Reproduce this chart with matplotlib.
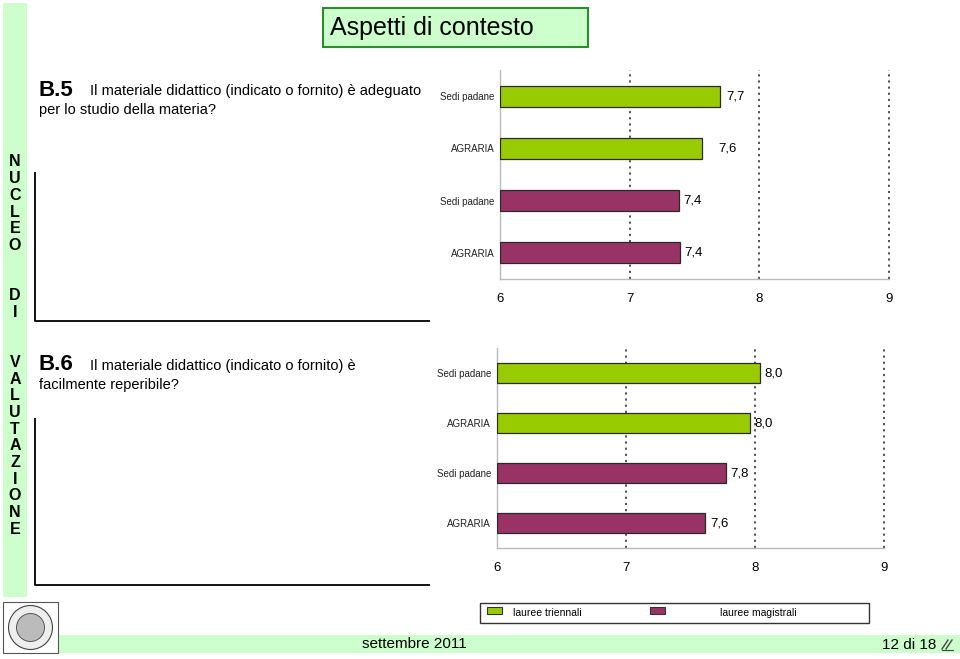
import matplotlib
matplotlib.use("Agg")
import matplotlib.pyplot as plt
from matplotlib.patches import Rectangle, Circle

plt.rcParams['font.family'] = ['Liberation Sans', 'DejaVu Sans']

# ---------------- data ----------------
categories = ["Sedi padane", "AGRARIA", "Sedi padane", "AGRARIA"]
series_names = ["lauree triennali", "lauree magistrali"]
b5_values = [7.70, 7.56, 7.38, 7.39]
b6_values = [8.04, 7.96, 7.78, 7.61]
bar_series = [0, 0, 1, 1]
x_ticks = [6, 7, 8, 9]
x_tick_labels = ["6", "7", "8", "9"]
q5_code = "B.5"
q5_text = ["Il materiale didattico (indicato o fornito) è adeguato",
           "per lo studio della materia?"]
q6_code = "B.6"
q6_text = ["Il materiale didattico (indicato o fornito) è",
           "facilmente reperibile?"]
title_text = "Aspetti di contesto"
side_text = "NUCLEO  DI  VALUTAZIONE"
footer_date = "settembre 2011"
footer_page = "12 di 18"

# ---------------- styles ----------------
series_colors = ["#99cc00", "#993366"]
light_green = "#ccffcc"
W, H = 960, 659
DPI = 100

fig = plt.figure(figsize=(W / DPI, H / DPI), dpi=DPI)
fig.patch.set_facecolor("white")

# background / decoration layer in pixel coordinates
bg = fig.add_axes([0, 0, 1, 1], zorder=0)
bg.set_xlim(0, W)
bg.set_ylim(H, 0)
bg.axis("off")

bg.add_patch(Rectangle((3, 3), 24, 594, facecolor=light_green, edgecolor="none"))
bg.add_patch(Rectangle((58, 635), 902, 18, facecolor=light_green, edgecolor="none"))
bg.add_patch(Rectangle((323, 8), 265, 39, facecolor=light_green,
                       edgecolor="#2e8b2e", linewidth=1.5))
bg.text(330, 28, title_text, fontsize=18, va="center", ha="left", color="black")

# vertical side text
y0 = 162
step = 16.7
for i, ch in enumerate(side_text):
    if ch.strip():
        bg.text(15, y0 + i * step, ch, fontsize=11.5, fontweight="bold",
                ha="center", va="center", fontstretch="condensed",
                family=["Liberation Sans", "DejaVu Sans"], color="black")

# L-shaped frames
for (top, bot) in [(172, 321), (418, 585)]:
    bg.plot([35, 35, 430], [top, bot, bot], color="black", linewidth=1.3,
            solid_capstyle="butt")

# question texts
def question(y_base, code, lines):
    bg.text(39, y_base, code, fontsize=16, fontweight="bold", ha="left",
            va="baseline")
    bg.text(90, y_base, lines[0], fontsize=10.5, ha="left", va="baseline")
    bg.text(39, y_base + 18.5, lines[1], fontsize=10.5, ha="left", va="baseline")

question(95.5, q5_code, q5_text)
question(370, q6_code, q6_text)

# logo placeholder (university seal)
bg.add_patch(Rectangle((3, 602), 55, 51, facecolor="white", edgecolor="#555555",
                       linewidth=0.8))
bg.add_patch(Circle((30.5, 627.5), 22, facecolor="#eeeeee", edgecolor="#444444",
                    linewidth=0.8))
bg.add_patch(Circle((30.5, 627.5), 14, facecolor="#bbbbbb", edgecolor="#444444",
                    linewidth=0.6))

# footer
bg.text(362, 644, footer_date, fontsize=11, ha="left", va="center")
bg.text(936, 645, footer_page, fontsize=11, ha="right", va="center")
for dx in (0, 4):
    bg.plot([942 + dx, 948 + dx], [649, 640], color="#444444", linewidth=1)
bg.plot([942, 953], [649.5, 649.5], color="#444444", linewidth=0.8)

# legend box
bg.add_patch(Rectangle((480, 603), 389, 19.5, facecolor="white",
                       edgecolor="#333333", linewidth=1))
bg.add_patch(Rectangle((487, 607), 15, 6.5, facecolor=series_colors[0],
                       edgecolor="#333333", linewidth=0.8))
bg.text(513, 613.5, series_names[0], fontsize=7.5, ha="left", va="center")
bg.add_patch(Rectangle((650, 607), 15, 6.5, facecolor=series_colors[1],
                       edgecolor="#333333", linewidth=0.8))
bg.text(720, 613.5, series_names[1], fontsize=7.5, ha="left", va="center")


def px_rect(left, top, right, bottom):
    return [left / W, 1 - bottom / H, (right - left) / W, (bottom - top) / H]


def bar_chart(rect, values, label_pads):
    ax = fig.add_axes(rect, zorder=2)
    ax.patch.set_alpha(0)
    ypos = list(range(len(categories)))
    colors = [series_colors[s] for s in bar_series]
    ax.barh(ypos, [v - x_ticks[0] for v in values], left=x_ticks[0], height=0.4,
            color=colors, edgecolor="#2a2a2a", linewidth=0.9, zorder=3)
    for y, v, pad in zip(ypos, values, label_pads):
        ax.annotate(f"{v:.1f}".replace(".", ","), xy=(v, y), xytext=(pad, 0),
                    textcoords="offset points", va="center", ha="left",
                    fontsize=9.5, zorder=4)
    ax.set_xlim(x_ticks[0], x_ticks[-1])
    ax.set_ylim(len(categories) - 0.5, -0.5)
    ax.set_xticks(x_ticks)
    ax.set_xticklabels(x_tick_labels, fontsize=9.5)
    ax.set_yticks(ypos)
    ax.set_yticklabels(categories, fontsize=7, color="#222222")
    ax.tick_params(axis="x", length=0, pad=10)
    ax.tick_params(axis="y", length=0, pad=4)
    for xv in x_ticks[1:]:
        ax.axvline(xv, color="#444444", linestyle=(0, (1.2, 2.2)), linewidth=1.3,
                   zorder=1, clip_on=False)
    for s in ["top", "right"]:
        ax.spines[s].set_visible(False)
    for s in ["left", "bottom"]:
        ax.spines[s].set_color("#bbbbbb")
        ax.spines[s].set_linewidth(1.0)
    return ax


bar_chart(px_rect(500, 70, 888.7, 279), b5_values, [4.5, 12, 3.5, 3])
bar_chart(px_rect(496.7, 348, 884, 548), b6_values, [3, 3.5, 2.5, 4])

fig.savefig("out.png", dpi=DPI)
